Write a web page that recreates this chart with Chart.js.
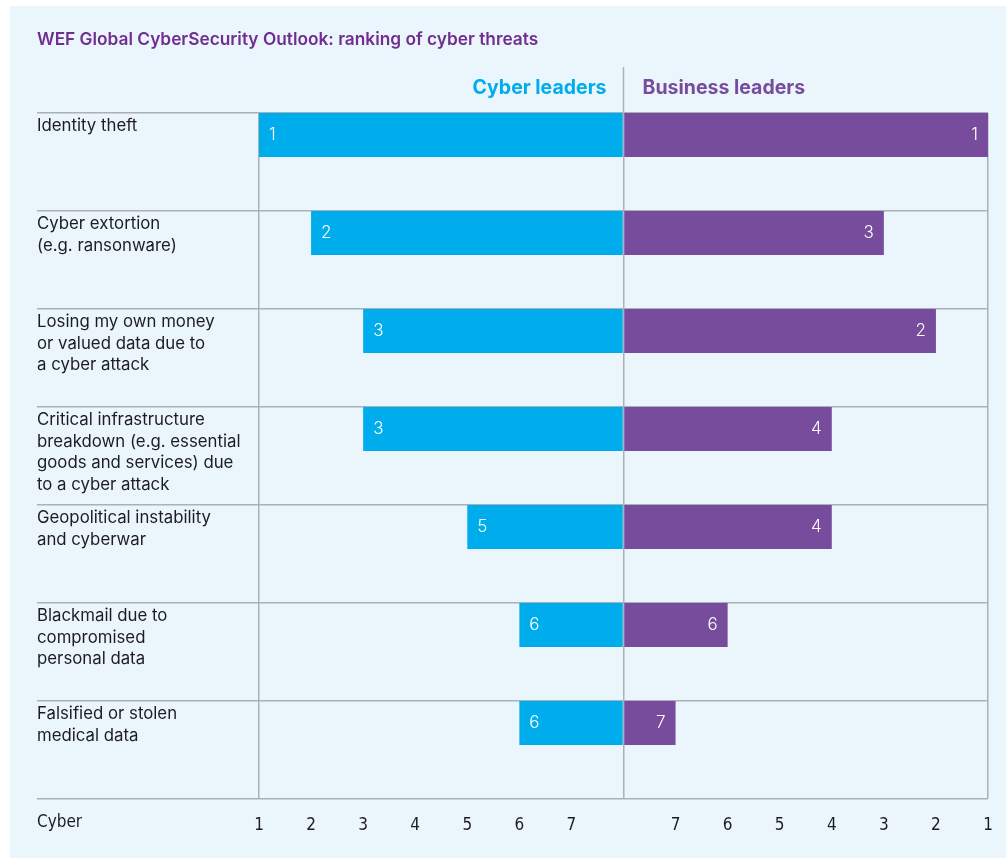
<!DOCTYPE html>
<html>
<head>
<meta charset="utf-8">
<script src="https://cdn.jsdelivr.net/npm/chart.js@4.4.1/dist/chart.umd.min.js"></script>
<style>
  html, body { margin: 0; padding: 0; background: #fff; }
  canvas { display: block; }
</style>
</head>
<body>
<canvas id="chart" width="1006" height="858"></canvas>
<script>
// threats, top to bottom
const threats = [
  ['Identity theft'],
  ['Cyber extortion', '(e.g. ransonware)'],
  ['Losing my own money', 'or valued data due to', 'a cyber attack'],
  ['Critical infrastructure', 'breakdown (e.g. essential', 'goods and services) due', 'to a cyber attack'],
  ['Geopolitical instability', 'and cyberwar'],
  ['Blackmail due to', 'compromised', 'personal data'],
  ['Falsified or stolen', 'medical data']
];
// ranks (1 = most important)
const cyberRanks = [1, 2, 3, 3, 5, 6, 6];
const businessRanks = [1, 3, 2, 4, 4, 6, 7];
const rankTicks = [1, 2, 3, 4, 5, 6, 7];

const maxRank = rankTicks.length + 1;
const CYAN = '#00adec';
const PURPLE = '#774c9c';
const GRID = '#abb1b8';
const TEXT = '#1d1d1f';
const NARROW = '"Liberation Sans Narrow", "DejaVu Sans Condensed", "Roboto", sans-serif';

const decor = {
  id: 'decor',
  beforeDraw(chart) {
    const c = chart.ctx;
    c.save();
    c.fillStyle = '#eaf5fc';
    c.fillRect(10, 6, chart.width - 10, chart.height - 6);
    c.restore();
  },
  afterDraw(chart) {
    const c = chart.ctx;
    const x = chart.scales.x, y = chart.scales.y;
    const mid = x.getPixelForValue(0);
    c.save();
    // centre divider above the plot
    c.strokeStyle = GRID;
    c.lineWidth = 1.5;
    c.beginPath();
    c.moveTo(mid, 67);
    c.lineTo(mid, chart.chartArea.top);
    c.stroke();

    c.textBaseline = 'middle';
    c.fillStyle = '#702f8f';
    c.font = '600 17.3px Inter, sans-serif';
    c.textAlign = 'left';
    c.fillText('WEF Global CyberSecurity Outlook: ranking of cyber threats', 37, 40);

    c.font = '700 19.5px Inter, sans-serif';
    c.fillStyle = CYAN;
    c.textAlign = 'right';
    c.fillText('Cyber leaders', mid - 17, 88);
    c.fillStyle = PURPLE;
    c.textAlign = 'left';
    c.fillText('Business leaders', mid + 19, 88);

    // row labels
    c.fillStyle = TEXT;
    c.font = '400 16.8px Inter, sans-serif';
    const band = y.getPixelForValue(1) - y.getPixelForValue(0);
    threats.forEach((lines, i) => {
      const top = y.getPixelForValue(i) - band / 2;
      lines.forEach((ln, j) => c.fillText(ln, 37, top + 13 + j * 21.6));
    });

    c.font = '17px ' + NARROW;
    c.fillText('Cyber', 37, 823);

    // rank numbers inside bars
    c.fillStyle = '#ffffff';
    c.font = '300 17px Inter, sans-serif';
    chart.getDatasetMeta(0).data.forEach((bar, i) => {
      c.textAlign = 'left';
      c.fillText(String(cyberRanks[i]), bar.x + 10, bar.y);
    });
    chart.getDatasetMeta(1).data.forEach((bar, i) => {
      c.textAlign = 'right';
      c.fillText(String(businessRanks[i]), bar.x - 10, bar.y);
    });
    c.restore();
  }
};

new Chart(document.getElementById('chart'), {
  type: 'bar',
  data: {
    labels: threats,
    datasets: [
      {label: 'Cyber leaders', data: cyberRanks.map(r => -(maxRank - r)), backgroundColor: CYAN, stack: 'rank'},
      {label: 'Business leaders', data: businessRanks.map(r => maxRank - r), backgroundColor: PURPLE, stack: 'rank'},
      {label: 'pad', data: [], stack: 'pad'}
    ]
  },
  options: {
    indexAxis: 'y',
    responsive: false,
    animation: false,
    categoryPercentage: 1.102,
    barPercentage: 0.815,
    layout: {padding: {top: 113, right: 18, left: 0, bottom: 0}},
    plugins: {legend: {display: false}, tooltip: {enabled: false}},
    scales: {
      x: {
        type: 'linear',
        stacked: true,
        min: -(maxRank - 1),
        max: maxRank - 1,
        afterFit: s => { s.height = 59; s.paddingLeft = 0; s.paddingRight = 0; },
        border: {display: false},
        grid: {
          drawTicks: false,
          lineWidth: 1.5,
          color: ctx => (ctx.tick && [-(maxRank - 1), 0, maxRank - 1].includes(ctx.tick.value)) ? GRID : 'rgba(0,0,0,0)'
        },
        ticks: {
          stepSize: 1,
          padding: 16,
          color: TEXT,
          font: {family: NARROW, size: 17},
          callback: v => v === 0 ? '' : String(maxRank - Math.abs(v))
        }
      },
      y: {
        stacked: true,
        afterFit: s => { s.width = 259; },
        border: {display: false},
        grid: {color: GRID, lineWidth: 1.5, tickLength: 222},
        ticks: {display: false}
      }
    }
  },
  plugins: [decor]
});
</script>
</body>
</html>
